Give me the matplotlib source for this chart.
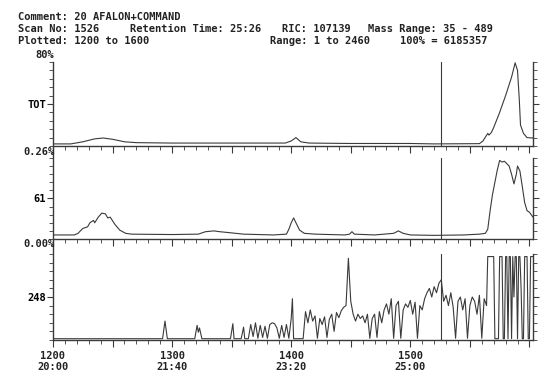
import matplotlib
matplotlib.use('Agg')
import matplotlib.pyplot as plt
from matplotlib.lines import Line2D
from matplotlib.ticker import MultipleLocator

plt.rcParams['font.family'] = ['DejaVu Sans Mono']
plt.rcParams['font.weight'] = 'bold'

# ---- data (scan number, relative intensity 0-100) ----
tot_pts = [(1200, 2.5), (1215, 2.5), (1225, 5), (1235, 8.5), (1242, 9.5), (1250, 8),
           (1260, 5), (1270, 4), (1300, 3.5), (1350, 3.5), (1395, 3.5), (1400, 6),
           (1404, 10), (1408, 5), (1415, 3.5), (1450, 3), (1500, 3), (1520, 2.5),
           (1558, 2.8), (1561, 6), (1565, 15), (1566, 13), (1568, 16), (1570, 22),
           (1575, 40), (1580, 60), (1585, 82), (1588, 99), (1590, 90), (1591.5, 55),
           (1592.5, 25), (1595, 15), (1598, 10), (1603, 9.5)]

ion61_pts = [(1200, 5), (1218, 5), (1221, 7), (1225, 13), (1229, 15), (1231, 20),
             (1234, 23), (1235, 20), (1238, 27), (1241, 32), (1244, 31), (1246, 26),
             (1248, 27), (1252, 18), (1256, 11), (1261, 7), (1266, 6), (1300, 5.5),
             (1322, 6), (1328, 9), (1335, 10), (1340, 9), (1347, 8), (1360, 6),
             (1385, 5), (1396, 6), (1398, 12), (1400, 20), (1402, 26), (1404, 20),
             (1407, 11), (1411, 7), (1420, 6), (1445, 5), (1449, 6), (1451, 9),
             (1453, 6), (1470, 5), (1486, 7), (1490, 10), (1494, 7), (1500, 5),
             (1520, 4.5), (1545, 5), (1558, 6), (1563, 7), (1565, 12), (1567, 35),
             (1569, 55), (1571, 70), (1573, 85), (1575, 97), (1577, 95), (1579, 96),
             (1581, 93), (1583, 90), (1585, 80), (1587, 68), (1589, 80), (1590, 90),
             (1592, 84), (1594, 65), (1596, 45), (1598, 35), (1600, 33), (1603, 27)]

ion248_pts = [(1200, 1.5), (1292, 1.5), (1294, 22), (1296, 1.5),
              (1319, 1.5), (1321, 17), (1322, 9), (1323, 14), (1325, 1.5),
              (1349, 1.5), (1351, 19), (1352, 1.5), (1358, 1.5), (1360, 15), (1361, 1.5),
              (1364, 1.5), (1366, 18), (1368, 4), (1370, 20), (1372, 2), (1374, 17),
              (1376, 3), (1378, 16), (1380, 2), (1382, 18), (1384, 20), (1386, 19),
              (1388, 14), (1390, 2), (1392, 17), (1394, 3), (1396, 18), (1398, 2),
              (1400, 25), (1401, 48), (1402, 1.5), (1410, 1.5),
              (1412, 33), (1414, 20), (1416, 35), (1418, 22), (1420, 28), (1422, 2),
              (1424, 25), (1426, 18), (1428, 27), (1430, 3), (1432, 24), (1434, 30),
              (1436, 10), (1438, 32), (1440, 26), (1442, 34), (1444, 38), (1446, 40),
              (1448, 95), (1450, 45), (1452, 30), (1454, 22), (1456, 30), (1458, 25),
              (1460, 28), (1462, 20), (1464, 30), (1466, 2), (1468, 25), (1470, 30),
              (1472, 3), (1474, 33), (1476, 20), (1478, 35), (1480, 42), (1482, 30),
              (1484, 48), (1486, 2), (1488, 40), (1490, 45), (1492, 2), (1494, 35),
              (1496, 42), (1498, 38), (1500, 46), (1502, 30), (1504, 44), (1506, 2),
              (1508, 40), (1510, 35), (1512, 48), (1514, 55), (1516, 60), (1518, 50),
              (1520, 62), (1522, 55), (1524, 66), (1526, 70), (1528, 45), (1530, 52),
              (1532, 40), (1534, 55), (1536, 38), (1538, 2), (1540, 45), (1542, 50),
              (1544, 35), (1546, 48), (1548, 2), (1550, 40), (1552, 50), (1554, 45),
              (1556, 30), (1558, 52), (1560, 2), (1562, 48), (1564, 40),
              (1565, 97), (1570, 97), (1571, 1.5), (1574, 1.5), (1575, 97), (1577, 97),
              (1578, 1.5), (1579, 1.5), (1580, 97), (1581, 97), (1582, 1.5), (1583, 97),
              (1584, 97), (1585, 1.5), (1586, 97), (1587, 50), (1588, 97), (1589, 97),
              (1590, 1.5), (1591, 97), (1592, 97), (1593, 60), (1594, 1.5), (1595, 1.5),
              (1596, 97), (1598, 97), (1599, 1.5), (1600, 1.5), (1601, 97), (1603, 97)]

panel_labels = ['TOT', '61', '248']
scan_ticks = [1200, 1300, 1400, 1500]
time_labels = ['20:00', '21:40', '23:20', '25:00']
cursor_scan = 1526

W, H = 550, 380
LINE = '#3a3a3a'


def px_rect(left, top, right, bottom):
    return [left / W, 1 - bottom / H, (right - left) / W, (bottom - top) / H]


fig = plt.figure(figsize=(5.5, 3.8), dpi=100)

panels = [(tot_pts, (62, 146)), (ion61_pts, (158, 239)), (ion248_pts, (254, 340))]
axes = []
for i, (pts, (top, bot)) in enumerate(panels):
    ax = fig.add_axes(px_rect(53, top, 533, bot))
    xs = [p[0] for p in pts]
    ys = [p[1] for p in pts]
    ax.plot(xs, ys, color=LINE, lw=0.8)
    ax.axvline(cursor_scan, color=LINE, lw=0.8)
    ax.set_xlim(1200, 1603)
    ax.set_ylim(0, 100)
    for s in ['top', 'left']:
        ax.spines[s].set_visible(False)
    for s in ['bottom', 'right']:
        ax.spines[s].set_color(LINE)
        ax.spines[s].set_linewidth(1.0)
    ax.xaxis.set_major_locator(MultipleLocator(50))
    ax.xaxis.set_minor_locator(MultipleLocator(10))
    ax.yaxis.set_major_locator(MultipleLocator(50))
    ax.yaxis.set_minor_locator(MultipleLocator(10))
    ax.tick_params(axis='x', which='major', direction='out', length=5, color=LINE, labelbottom=False)
    ax.tick_params(axis='x', which='minor', direction='out', length=3, color=LINE)
    ax.tick_params(axis='y', which='both', direction='out', right=True, left=True, color=LINE,
                   labelleft=False)
    ax.tick_params(axis='y', which='major', length=4)
    ax.tick_params(axis='y', which='minor', length=3)
    ax.set_yticks([50], [panel_labels[i]])
    ax.tick_params(axis='y', which='major', labelleft=True, labelsize=7.5, pad=1)
    axes.append(ax)

# continuous left axis line
fig.add_artist(Line2D([53 / W, 53 / W], [1 - 62 / H, 1 - 340 / H], color=LINE, lw=1.0))

# x tick labels below the bottom panel
axes[2].set_xticks(scan_ticks, minor=False)
axes[2].xaxis.set_major_locator(MultipleLocator(50))
for sc, tl in zip(scan_ticks, time_labels):
    axes[2].annotate(f'{sc}\n{tl}', xy=(sc, 0), xycoords=('data', 'axes fraction'),
                     xytext=(0, -8), textcoords='offset points', ha='center', va='top',
                     fontsize=7.5, linespacing=1.05, color='#222222')

# scale labels on the left
fs = 7.5
fig.text(54 / W, 1 - 55 / H, '80%', ha='right', va='center', fontsize=fs, color='#222222')
fig.text(55 / W, 1 - 152 / H, '0.26%', ha='right', va='center', fontsize=fs, color='#222222')
fig.text(55 / W, 1 - 244 / H, '0.00%', ha='right', va='center', fontsize=fs, color='#222222')

# header
hdr = dict(fontsize=fs, color='#222222', va='center', ha='left')
fig.text(18 / W, 1 - 17 / H, 'Comment: 20 AFALON+COMMAND', **hdr)
fig.text(18 / W, 1 - 29 / H, 'Scan No: 1526', **hdr)
fig.text(130 / W, 1 - 29 / H, 'Retention Time: 25:26', **hdr)
fig.text(282 / W, 1 - 29 / H, 'RIC: 107139', **hdr)
fig.text(368 / W, 1 - 29 / H, 'Mass Range: 35 - 489', **hdr)
fig.text(18 / W, 1 - 41 / H, 'Plotted: 1200 to 1600', **hdr)
fig.text(270 / W, 1 - 41 / H, 'Range: 1 to 2460', **hdr)
fig.text(400 / W, 1 - 41 / H, '100% = 6185357', **hdr)

fig.savefig('out.png', dpi=100)
